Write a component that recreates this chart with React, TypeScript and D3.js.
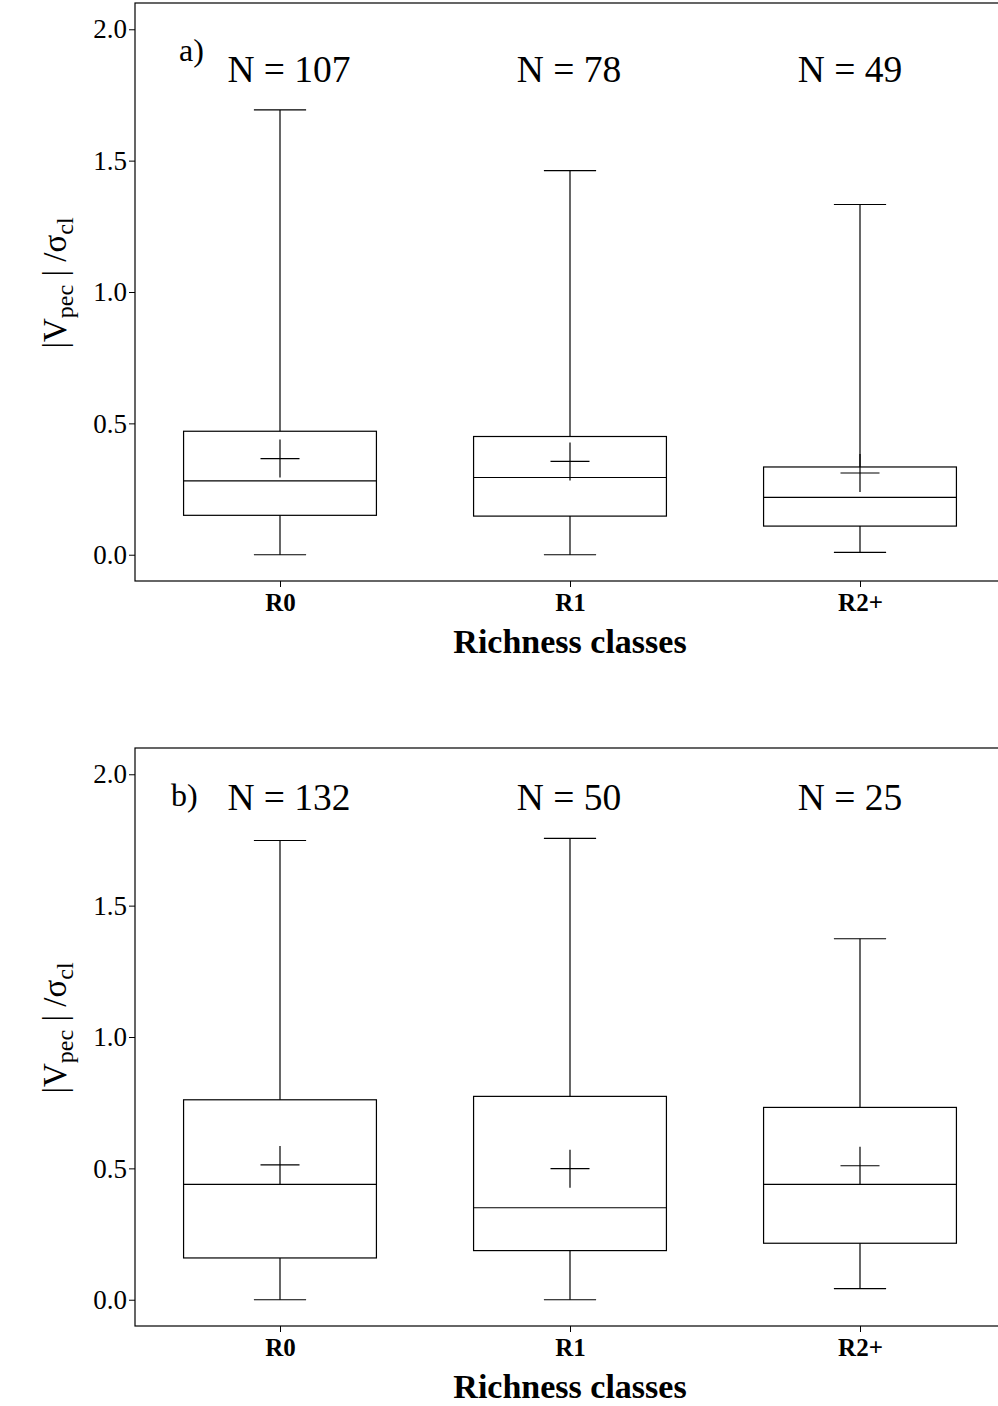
import { useEffect, useRef } from "react";
import * as d3 from "d3";

const categories = ["R0", "R1", "R2+"];
const yTicks = [0, 0.5, 1.0, 1.5, 2.0];

// panel a
const countsA = [107, 78, 49];
const lowA = [0.0, 0.0, 0.009];
const q1A = [0.15, 0.147, 0.109];
const medA = [0.281, 0.294, 0.218];
const q3A = [0.47, 0.45, 0.334];
const highA = [1.693, 1.462, 1.333];
const meanA = [0.366, 0.355, 0.311];

// panel b
const countsB = [132, 50, 25];
const lowB = [0.0, 0.0, 0.042];
const q1B = [0.159, 0.187, 0.215];
const medB = [0.439, 0.35, 0.439];
const q3B = [0.761, 0.774, 0.732];
const highB = [1.748, 1.756, 1.374];
const meanB = [0.513, 0.499, 0.51];

const FONT = "'Liberation Serif', 'Times New Roman', serif";
const W = 998;
const H = 1406;

function drawPanel(svg, opts) {
  const { top, bottom, label, labelX, counts, countY, low, q1, med, q3, high, mean } = opts;
  const left = 135;
  const right = 1005;

  const x = d3.scalePoint().domain(categories).range([left, right]).padding(0.5);
  const y = d3.scaleLinear().domain([-0.1, 2.1]).range([bottom, top]);
  const step = x.step();
  const boxW = step * 0.665;
  const capW = step * 0.18;

  const g = svg.append("g");

  // frame
  g.append("rect")
    .attr("x", left).attr("y", top)
    .attr("width", right - left).attr("height", bottom - top)
    .attr("fill", "none").attr("stroke", "#000").attr("stroke-width", 1.2);

  // y axis
  const ya = g.append("g").attr("transform", `translate(${left},0)`)
    .call(d3.axisLeft(y).tickValues(yTicks).tickFormat(d3.format(".1f")).tickSize(6).tickPadding(2));
  ya.select(".domain").remove();
  ya.selectAll("line").attr("stroke", "#000").attr("stroke-width", 1);
  ya.selectAll("text").attr("font-family", FONT).attr("font-size", 27).attr("fill", "#000");

  // x axis
  const xa = g.append("g").attr("transform", `translate(0,${bottom})`)
    .call(d3.axisBottom(x).tickSize(6).tickPadding(6));
  xa.select(".domain").remove();
  xa.selectAll("line").attr("stroke", "#000");
  xa.selectAll("text").attr("font-family", FONT).attr("font-size", 25)
    .attr("font-weight", "bold").attr("fill", "#000").attr("dy", "0.71em");

  g.append("text")
    .attr("x", (left + right) / 2).attr("y", bottom + 72)
    .attr("text-anchor", "middle").attr("font-family", FONT)
    .attr("font-size", 34).attr("font-weight", "bold").text("Richness classes");

  // y label
  const yl = g.append("text")
    .attr("transform", `translate(66,${(top + bottom) / 2 - 9}) rotate(-90)`)
    .attr("text-anchor", "middle").attr("font-family", FONT).attr("font-size", 33);
  yl.append("tspan").text("|V");
  yl.append("tspan").attr("font-size", 24).attr("dy", 7).text("pec");
  yl.append("tspan").attr("dy", -7).text(" | /σ");
  yl.append("tspan").attr("font-size", 24).attr("dy", 7).text("cl");

  // panel letter
  g.append("text").attr("x", labelX).attr("y", top + 58)
    .attr("font-family", FONT).attr("font-size", 32).text(label);

  const nOffset = [9, -1, -10];
  categories.forEach((c, i) => {
    const cx = x(c);
    const s = g.append("g").attr("stroke", "#000").attr("stroke-width", 1.2).attr("fill", "none");
    s.append("line").attr("x1", cx).attr("x2", cx).attr("y1", y(high[i])).attr("y2", y(q3[i]));
    s.append("line").attr("x1", cx).attr("x2", cx).attr("y1", y(q1[i])).attr("y2", y(low[i]));
    s.append("line").attr("x1", cx - capW / 2).attr("x2", cx + capW / 2).attr("y1", y(high[i])).attr("y2", y(high[i]));
    s.append("line").attr("x1", cx - capW / 2).attr("x2", cx + capW / 2).attr("y1", y(low[i])).attr("y2", y(low[i]));
    s.append("rect").attr("x", cx - boxW / 2).attr("width", boxW)
      .attr("y", y(q3[i])).attr("height", y(q1[i]) - y(q3[i]));
    s.append("line").attr("x1", cx - boxW / 2).attr("x2", cx + boxW / 2).attr("y1", y(med[i])).attr("y2", y(med[i]));
    const my = y(mean[i]);
    s.append("line").attr("x1", cx - 19.5).attr("x2", cx + 19.5).attr("y1", my).attr("y2", my);
    s.append("line").attr("x1", cx).attr("x2", cx).attr("y1", my - 19).attr("y2", my + 19);

    g.append("text").attr("x", cx + nOffset[i]).attr("y", y(countY))
      .attr("text-anchor", "middle").attr("font-family", FONT).attr("font-size", 37.5)
      .text(`N = ${counts[i]}`);
  });
}

export default function App() {
  const svgRef = useRef(null);

  useEffect(() => {
    const svg = d3.select(svgRef.current);
    svg.selectAll("*").remove();
    drawPanel(svg, {
      top: 3, bottom: 581, label: "a)", labelX: 179, counts: countsA, countY: 1.8,
      low: lowA, q1: q1A, med: medA, q3: q3A, high: highA, mean: meanA,
    });
    drawPanel(svg, {
      top: 748, bottom: 1326, label: "b)", labelX: 171, counts: countsB, countY: 1.864,
      low: lowB, q1: q1B, med: medB, q3: q3B, high: highB, mean: meanB,
    });
  }, []);

  return (
    <svg
      ref={svgRef}
      width={W}
      height={H}
      style={{ position: "absolute", left: 0, top: 0, background: "#fff" }}
    />
  );
}
